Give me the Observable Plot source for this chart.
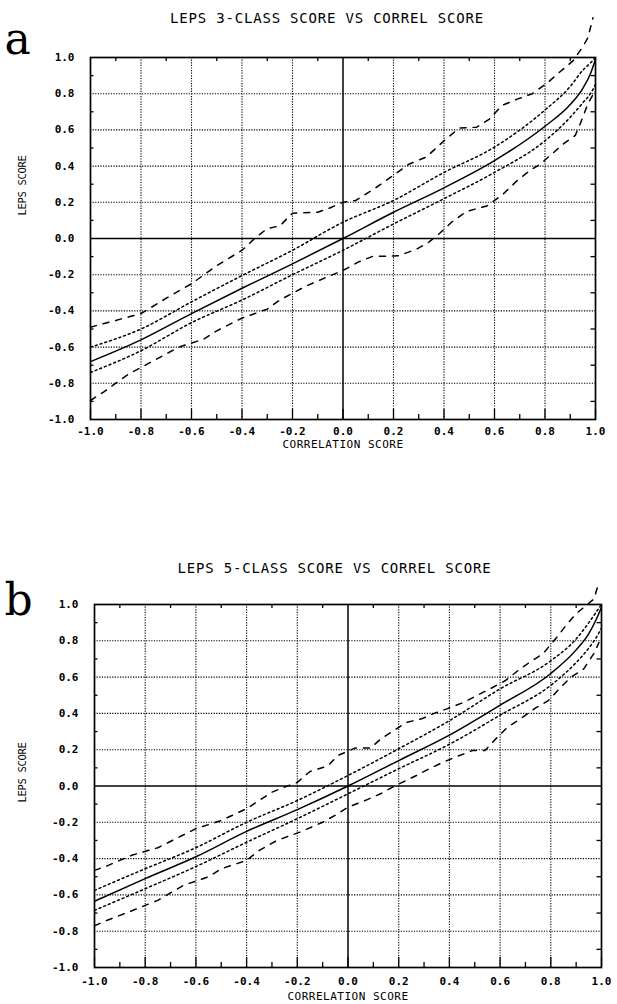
<!DOCTYPE html>
<html><head><meta charset="utf-8">
<script src="https://cdn.jsdelivr.net/npm/d3@7"></script>
<script src="https://cdn.jsdelivr.net/npm/@observablehq/plot@0.6"></script>
<style>
body{margin:0;background:#fff;}
#chart{width:617px;height:1004px;position:relative;background:#fff;}
#chart svg{display:block;}
.ttl text{letter-spacing:0.8px;}
.xlab text{letter-spacing:0.5px;}
.ylab text{letter-spacing:-0.3px;}
</style></head><body><div id="chart"></div>
<script>
// tick values
const majorTicks = [-1, -0.8, -0.6, -0.4, -0.2, 0, 0.2, 0.4, 0.6, 0.8, 1];
const gridTicks = [-0.8, -0.6, -0.4, -0.2, 0.2, 0.4, 0.6, 0.8];
const minorTicks = [-0.9, -0.7, -0.5, -0.3, -0.1, 0.1, 0.3, 0.5, 0.7, 0.9];

// correlation score grid for the smooth curves
const corr = [-1, -0.8, -0.6, -0.4, -0.2, 0, 0.2, 0.4, 0.6, 0.8, 0.9, 0.95, 0.98, 1];

// Panel a: LEPS 3-class
const aMean  = [-0.68, -0.56, -0.415, -0.275, -0.14, 0.0, 0.145, 0.28, 0.43, 0.62, 0.74, 0.83, 0.91, 0.99];
const aInnerHi = [-0.60, -0.50, -0.35, -0.205, -0.065, 0.09, 0.21, 0.365, 0.505, 0.71, 0.84, 0.93, 0.97, 1.0];
const aInnerLo = [-0.74, -0.62, -0.465, -0.34, -0.2, -0.065, 0.08, 0.22, 0.365, 0.54, 0.67, 0.75, 0.80, 0.85];
const aOuterHiX = [-1, -0.8, -0.7, -0.6, -0.5, -0.4, -0.35, -0.3, -0.25, -0.2, -0.1, -0.05, 0, 0.05, 0.13, 0.2, 0.26, 0.33, 0.4, 0.46, 0.53, 0.58, 0.63, 0.69, 0.75, 0.81, 0.85, 0.91, 0.95, 0.97, 0.99];
const aOuterHiY = [-0.49, -0.415, -0.33, -0.25, -0.15, -0.065, 0.0, 0.055, 0.07, 0.14, 0.145, 0.17, 0.2, 0.21, 0.28, 0.35, 0.41, 0.45, 0.54, 0.61, 0.615, 0.66, 0.735, 0.77, 0.8, 0.86, 0.91, 0.98, 1.06, 1.11, 1.22];
const aOuterLoX = [-1, -0.95, -0.85, -0.75, -0.65, -0.55, -0.5, -0.4, -0.3, -0.25, -0.15, -0.05, 0, 0.06, 0.115, 0.22, 0.29, 0.34, 0.38, 0.43, 0.49, 0.57, 0.63, 0.69, 0.74, 0.78, 0.83, 0.87, 0.92, 0.94, 0.97, 1.0];
const aOuterLoY = [-0.895, -0.85, -0.75, -0.675, -0.6, -0.555, -0.51, -0.44, -0.39, -0.34, -0.265, -0.205, -0.177, -0.13, -0.1, -0.095, -0.06, -0.02, 0.025, 0.09, 0.15, 0.18, 0.24, 0.32, 0.375, 0.41, 0.47, 0.52, 0.57, 0.635, 0.745, 0.82];

// Panel b: LEPS 5-class
const bMean  = [-0.635, -0.51, -0.39, -0.25, -0.13, 0.0, 0.14, 0.28, 0.445, 0.62, 0.75, 0.84, 0.92, 0.985];
const bInnerHi = [-0.575, -0.456, -0.34, -0.2, -0.08, 0.058, 0.205, 0.36, 0.535, 0.69, 0.81, 0.9, 0.96, 1.0];
const bInnerLo = [-0.685, -0.566, -0.444, -0.31, -0.18, -0.043, 0.095, 0.23, 0.39, 0.555, 0.68, 0.76, 0.82, 0.87];
const bOuterHiX = [-1, -0.95, -0.85, -0.75, -0.65, -0.6, -0.5, -0.4, -0.3, -0.25, -0.2, -0.15, -0.08, -0.04, 0.03, 0.09, 0.13, 0.18, 0.23, 0.29, 0.34, 0.39, 0.455, 0.51, 0.56, 0.62, 0.67, 0.71, 0.77, 0.83, 0.86, 0.9, 0.94, 0.97, 0.985];
const bOuterHiY = [-0.465, -0.44, -0.38, -0.34, -0.27, -0.235, -0.19, -0.125, -0.034, -0.006, 0.02, 0.08, 0.11, 0.168, 0.21, 0.21, 0.26, 0.305, 0.35, 0.37, 0.4, 0.425, 0.46, 0.5, 0.535, 0.58, 0.635, 0.675, 0.73, 0.83, 0.885, 0.95, 0.995, 1.03, 1.1];
const bOuterLoX = [-1, -0.95, -0.85, -0.75, -0.65, -0.55, -0.5, -0.4, -0.35, -0.28, -0.19, -0.1, -0.04, 0, 0.076, 0.128, 0.18, 0.27, 0.32, 0.39, 0.44, 0.49, 0.54, 0.59, 0.63, 0.68, 0.74, 0.79, 0.84, 0.88, 0.93, 0.97, 0.99];
const bOuterLoY = [-0.77, -0.74, -0.686, -0.63, -0.548, -0.5, -0.456, -0.41, -0.355, -0.3, -0.254, -0.2, -0.153, -0.117, -0.075, -0.043, -0.003, 0.058, 0.095, 0.14, 0.168, 0.195, 0.195, 0.27, 0.325, 0.37, 0.43, 0.47, 0.545, 0.6, 0.645, 0.73, 0.79];

const zip = (xs, ys) => xs.map((x, i) => ({x, y: ys[i]}));
const fmt = d => d.toFixed(1);
const mono = "DejaVu Sans Mono";

function panel(o) {
  const W = 617, H = 502;
  const fw = W - o.ml - o.mr, fh = H - o.mt - o.mb;
  const dotted = {stroke: "black", strokeOpacity: 1, strokeWidth: 1.1, strokeDasharray: "1.2,1.4"};
  const tk = {stroke: "black", strokeWidth: 1.3};
  return Plot.plot({
    width: W, height: H,
    marginTop: o.mt, marginRight: o.mr, marginBottom: o.mb, marginLeft: o.ml,
    x: {domain: [-1, 1]},
    y: {domain: [-1, 1]},
    style: {fontFamily: mono, fontSize: "11px", color: "black", background: "white", overflow: "visible"},
    marks: [
      Plot.gridX(gridTicks, dotted),
      Plot.gridY(gridTicks, dotted),
      Plot.ruleX([0], {stroke: "black", strokeWidth: 1.5}),
      Plot.ruleY([0], {stroke: "black", strokeWidth: 1.5}),
      Plot.tickX(minorTicks, {x: d => d, insetTop: fh - 5, ...tk}),
      Plot.tickX(majorTicks, {x: d => d, insetTop: fh - 10, ...tk}),
      Plot.tickX(minorTicks, {x: d => d, insetBottom: fh - 4, ...tk}),
      Plot.tickY(minorTicks, {y: d => d, insetRight: fw - 3.5, ...tk}),
      Plot.tickY(minorTicks, {y: d => d, insetLeft: fw - 4.5, ...tk}),
      Plot.frame({stroke: "black", strokeWidth: 1.7}),
      Plot.axisX(majorTicks, {tickSize: 0, tickPadding: o.xpad, tickFormat: fmt, fontWeight: "bold", fontSize: 11, label: null}),
      Plot.axisY(majorTicks, {tickSize: 0, tickPadding: 16, tickFormat: fmt, fontWeight: "bold", fontSize: 11, label: null}),
      Plot.line(zip(o.hiX, o.hiY), {x: "x", y: "y", stroke: "black", strokeWidth: 1.5, strokeDasharray: "6,7"}),
      Plot.line(zip(o.loX, o.loY), {x: "x", y: "y", stroke: "black", strokeWidth: 1.5, strokeDasharray: "6,7"}),
      Plot.line(zip(corr, o.innerHi), {x: "x", y: "y", curve: "monotone-x", stroke: "black", strokeWidth: 1.5, strokeDasharray: "2,3"}),
      Plot.line(zip(corr, o.innerLo), {x: "x", y: "y", curve: "monotone-x", stroke: "black", strokeWidth: 1.5, strokeDasharray: "2,3"}),
      Plot.line(zip(corr, o.mean), {x: "x", y: "y", curve: "monotone-x", stroke: "black", strokeWidth: 1.5}),
      Plot.text([o.title], {text: d => d, frameAnchor: "top", textAnchor: "middle", dx: o.tdx, dy: o.tdy, lineAnchor: "middle", fontSize: 14, fontFamily: mono, className: "ttl"}),
      Plot.text([o.letter], {text: d => d, frameAnchor: "top-left", textAnchor: "start", dx: o.ldx, dy: o.ldy, lineAnchor: "bottom", fontSize: 44, fontFamily: "DejaVu Serif"}),
      Plot.text(["LEPS SCORE"], {text: d => d, frameAnchor: "left", textAnchor: "middle", rotate: -90, dx: o.ydx, dy: o.ydy, lineAnchor: "middle", fontSize: 10.5, fontFamily: mono, className: "ylab"}),
      Plot.text(["CORRELATION SCORE"], {text: d => d, frameAnchor: "bottom", textAnchor: "middle", dy: o.xdy, lineAnchor: "middle", fontSize: 11, fontFamily: mono, className: "xlab"})
    ]
  });
}

const chart = document.getElementById("chart");
const pa = panel({
  mt: 57, mb: 83, ml: 90, mr: 22, xpad: 8,
  title: "LEPS 3-CLASS SCORE VS CORREL SCORE", tdx: -16, tdy: -39,
  letter: "a", ldx: -86, ldy: -4,
  ydx: -68, ydy: -53, xdy: 25,
  mean: aMean, innerHi: aInnerHi, innerLo: aInnerLo,
  hiX: aOuterHiX, hiY: aOuterHiY, loX: aOuterLoX, loY: aOuterLoY
});
const pb = panel({
  mt: 102, mb: 37, ml: 94, mr: 16, xpad: 10,
  title: "LEPS 5-CLASS SCORE VS CORREL SCORE", tdx: -13.5, tdy: -36,
  letter: "b", ldx: -90, ldy: 10,
  ydx: -72, ydy: -13.5, xdy: 29,
  mean: bMean, innerHi: bInnerHi, innerLo: bInnerLo,
  hiX: bOuterHiX, hiY: bOuterHiY, loX: bOuterLoX, loY: bOuterLoY
});
chart.appendChild(pa);
chart.appendChild(pb);
</script>
</body></html>
